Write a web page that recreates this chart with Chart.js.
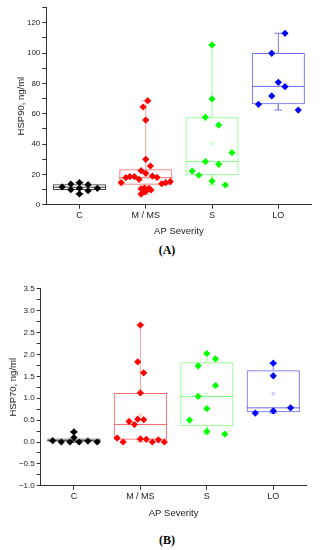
<!DOCTYPE html>
<html><head><meta charset="utf-8">
<script src="https://cdn.jsdelivr.net/npm/chart.js@4/dist/chart.umd.min.js"></script>
<style>
html,body{margin:0;padding:0;background:#fff;width:322px;height:550px;overflow:hidden;}
.wrap{position:absolute;left:0;width:322px;}
#wa{top:0;height:240px;}
#wb{top:270px;height:255px;}
.lab{position:absolute;font-family:"Liberation Serif","Times New Roman",serif;font-weight:bold;font-size:12px;color:#000;transform:translate(-50%,-50%);}
</style></head><body>
<div class="wrap" id="wa"><canvas id="ca"></canvas></div>
<div class="wrap" id="wb"><canvas id="cb"></canvas></div>
<div class="lab" style="left:167px;top:250px">(A)</div>
<div class="lab" style="left:167px;top:540px">(B)</div>
<script>
// ---------- shared ----------
const categories = ['C', 'M / MS', 'S', 'LO'];
const catPos = [1, 2, 3, 4];
const xTitle = 'AP Severity';

// ---------- Chart A : HSP90 ----------
const aTitle = 'HSP90, ng/ml';
const aMin  = [7.1, 7.0, 13.0, 62.4];
const aQ1   = [9.7, 13.2, 19.4, 66.2];
const aMed  = [11.5, 17.8, 28.4, 78.0];
const aQ3   = [13.4, 23.3, 57.6, 100.0];
const aMax  = [14.5, 68.6, 105.3, 113.0];
const aMean = [null, null, 40.5, null];
const aCVals = [11.7, 13.6, 9.9, 14.5, 10.8, 7.1, 13.2, 9.2, 10.8];
const aCJit  = [-0.26, -0.13, -0.13, 0, 0, 0, 0.13, 0.13, 0.27];
const aMVals = [68.6, 64.4, 55.8, 29.9, 25.5, 22.4, 20.7, 18.9, 18.0, 16.7, 18.5, 18.5, 17.8, 14.5, 13.8, 14.5, 15.2, 10.5, 11.0, 9.7, 10.8, 9.7, 7.0, 8.4];
const aMJit  = [0.03, -0.04, 0, 0, 0.07, -0.07, 0, 0.1, 0.17, -0.1, -0.17, -0.24, -0.3, -0.37, 0.24, 0.3, 0.37, -0.07, -0.02, 0.02, 0.05, 0.08, -0.07, -0.01];
const aSVals = [105.3, 69.7, 57.6, 52.5, 34.3, 28.4, 26.6, 22.2, 19.4, 15.6, 13.0];
const aSJit  = [0, 0, -0.1, 0.1, 0.3, -0.1, 0.1, -0.3, -0.2, 0, 0.2];
const aLVals = [113.0, 99.8, 80.7, 77.8, 71.7, 66.2, 62.4];
const aLJit  = [0.1, -0.1, 0, 0.1, -0.1, -0.3, 0.3];

// ---------- Chart B : HSP70 ----------
const bTitle = 'HSP70, ng/ml';
const bMin  = [0, 0, 0.18, 0.66];
const bQ1   = [0, 0.05, 0.36, 0.68];
const bMed  = [0.03, 0.40, 1.04, 0.78];
const bQ3   = [0.08, 1.12, 1.82, 1.64];
const bMax  = [0.23, 2.67, 2.03, 1.80];
const bMean = [null, 0.62, 1.08, 1.10];
const bCVals = [0.03, 0, 0, 0.1, 0.23, 0, 0.02, 0];
const bCJit  = [-0.32, -0.19, -0.06, 0, 0, 0.08, 0.21, 0.35];
const bMVals = [2.67, 1.83, 1.58, 1.12, 0.47, 0.52, 0.51, 0.40, 0.09, 0, 0.07, 0.06, 0, 0.05, 0];
const bMJit  = [0, -0.04, 0.05, 0, -0.17, -0.04, 0.05, -0.09, -0.35, -0.26, 0, 0.09, 0.18, 0.27, 0.36];
const bSVals = [2.02, 1.90, 1.74, 1.29, 1.04, 0.76, 0.50, 0.24, 0.18];
const bSJit  = [0, 0.13, -0.13, 0.13, -0.13, 0, -0.26, 0, 0.27];
const bLVals = [1.80, 1.51, 0.71, 0.66, 0.78];
const bLJit  = [0, 0, 0, -0.27, 0.26];

// ---------- styles ----------
const pointColors   = ['#000000', '#ff0000', '#00ff00', '#0000ff'];
const boxColors     = ['#444444', '#ff6a6a', '#80ff80', '#6a6aff'];
const whiskerColors = ['#222222', '#f5a0a0', '#90ff90', '#7a7aff'];
const meanColors    = ['#999999', '#ffb0b0', '#b0ffb0', '#b0b0ff'];
const FONT = '"Liberation Sans", Arial, sans-serif';

function buildDatasets(mins, q1, med, q3, maxs, means, vals, jits) {
  const ds = [];
  vals.forEach((v, i) => {
    ds.push({
      type: 'scatter',
      data: v.map((y, k) => ({x: catPos[i] + jits[i][k], y})),
      pointStyle: 'rectRot', pointRadius: 3.6, borderWidth: 0,
      backgroundColor: pointColors[i], borderColor: pointColors[i], order: 0
    });
  });
  ds.push({
    type: 'scatter',
    data: catPos.map((x, i) => ({x, y: means[i]})),
    pointStyle: 'rect', pointRadius: 1.6, borderWidth: 0.8,
    backgroundColor: 'rgba(255,255,255,0)', borderColor: meanColors, order: 1
  });
  catPos.forEach((x, i) => {
    const c = 0.06, h = 0.4;
    ds.push({
      type: 'line',
      data: [
        {x, y: q3[i]}, {x, y: maxs[i]}, {x, y: null},
        {x: x - c, y: maxs[i]}, {x: x + c, y: maxs[i]}, {x, y: null},
        {x, y: q1[i]}, {x, y: mins[i]}, {x, y: null},
        {x: x - c, y: mins[i]}, {x: x + c, y: mins[i]}
      ],
      borderColor: whiskerColors[i], borderWidth: 1, pointRadius: 0,
      spanGaps: false, fill: false, order: 2
    });
    ds.push({
      type: 'line',
      data: [{x: x - h, y: med[i]}, {x: x + h, y: med[i]}],
      borderColor: boxColors[i], borderWidth: 1, pointRadius: 0, fill: false, order: 2
    });
  });
  ds.push({
    type: 'bar',
    data: catPos.map((x, i) => ({x, y: [q1[i], q3[i]]})),
    backgroundColor: 'rgba(255,255,255,0)', borderColor: boxColors,
    borderWidth: 1, borderSkipped: false, categoryPercentage: 0.8, barPercentage: 1.0,
    grouped: false, order: 3
  });
  return ds;
}

function fmt(v, dec) {
  return v.toFixed(dec).replace('-', '\u2212');
}

function makeChart(id, cfg) {
  return new Chart(document.getElementById(id), {
    type: 'scatter',
    data: {datasets: cfg.datasets},
    options: {
      responsive: true, maintainAspectRatio: false, animation: false,
      layout: {padding: {top: cfg.padTop, right: cfg.padRight, left: 0, bottom: 0}},
      plugins: {legend: {display: false}, tooltip: {enabled: false}},
      scales: {
        x: {
          type: 'linear', min: 0.5, max: 4.5, offset: false,
          afterBuildTicks: s => { s.ticks = catPos.map(v => ({value: v})); },
          afterFit: s => { s.height = cfg.xHeight; },
          ticks: {
            callback: v => categories[catPos.indexOf(v)] || '',
            font: {family: FONT, size: 9}, color: '#222', padding: 1, maxRotation: 0, autoSkip: false
          },
          grid: {drawOnChartArea: false, drawTicks: true, tickLength: 4, color: '#333', offset: false},
          border: {display: true, color: '#333', width: 1},
          title: {display: true, text: xTitle, font: {family: FONT, size: 9.5}, color: '#222',
                  padding: {top: 0, bottom: cfg.xTitlePad}}
        },
        y: {
          type: 'linear', min: cfg.yMin, max: cfg.yMax,
          afterFit: s => { s.width = cfg.yWidth; },
          ticks: {
            stepSize: cfg.minorStep, includeBounds: false,
            callback: v => (Math.abs(v / cfg.majorStep - Math.round(v / cfg.majorStep)) < 1e-6) ? fmt(v, cfg.dec) : '',
            font: {family: FONT, size: 8}, color: '#222', padding: 2, autoSkip: false
          },
          grid: {drawOnChartArea: false, drawTicks: true, tickLength: 4, color: '#333', offset: false},
          border: {display: true, color: '#333', width: 1},
          title: {display: true, text: cfg.yTitle, font: {family: FONT, size: 9.5}, color: '#222',
                  padding: {top: cfg.yTitlePad, bottom: 0}}
        }
      }
    }
  });
}

makeChart('ca', {
  datasets: buildDatasets(aMin, aQ1, aMed, aQ3, aMax, aMean,
    [aCVals, aMVals, aSVals, aLVals], [aCJit, aMJit, aSJit, aLJit]),
  padTop: 7.5, padRight: 10.5, xHeight: 35.3, xTitlePad: 2.6, yWidth: 46.3, yTitlePad: 16,
  yMin: 0, yMax: 130, minorStep: 10, majorStep: 20, dec: 0, yTitle: aTitle
});

makeChart('cb', {
  datasets: buildDatasets(bMin, bQ1, bMed, bQ3, bMax, bMean,
    [bCVals, bMVals, bSVals, bLVals], [bCJit, bMJit, bSJit, bLJit]),
  padTop: 18.7, padRight: 15.5, xHeight: 39.2, xTitlePad: 6, yWidth: 40.7, yTitlePad: 8,
  yMin: -1.0, yMax: 3.5, minorStep: 0.25, majorStep: 0.5, dec: 1, yTitle: bTitle
});
</script>
</body></html>
